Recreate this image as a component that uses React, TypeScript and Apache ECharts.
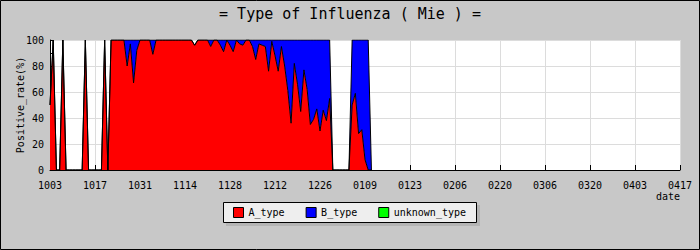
import React, { useEffect, useRef } from "react";
import * as echarts from "echarts";

// Daily dates from 2010-10-03 to 2011-04-17 (197 days), shown as MMDD
const START_DATE = Date.UTC(2010, 9, 3);
const DAY_COUNT = 197;
const categories: string[] = Array.from({ length: DAY_COUNT }, (_, i) => {
  const d = new Date(START_DATE + i * 86400000);
  const mm = String(d.getUTCMonth() + 1).padStart(2, "0");
  const dd = String(d.getUTCDate()).padStart(2, "0");
  return mm + dd;
});

const seriesNames = ["A_type", "B_type", "unknown_type"];

// Positive rate (%) per day, from 1003 onward
const aType: number[] = [
  50, 100, 0, 0, 100, 0, 0, 0, 0, 0, 0, 100, 0, 0, 0, 0, 0, 100, 0, 100,
  100, 100, 100, 100, 80, 97, 67, 92, 100, 100, 100, 100, 89, 100, 100, 100, 100, 100, 100, 100,
  100, 100, 100, 100, 100, 96, 100, 100, 100, 100, 95, 100, 100, 96, 91, 100, 96, 91, 100, 97,
  96, 100, 100, 95, 85, 97, 96, 95, 76, 99, 88, 76, 95, 80, 61, 36, 82, 66, 45, 77,
  62, 35, 39, 47, 30, 46, 38, 55, 0, 0, 0, 0, 0, 0, 50, 59, 28, 31, 8, 0,
  0,
];
const bType: number[] = [
  0, 0, 0, 0, 0, 0, 0, 0, 0, 0, 0, 0, 0, 0, 0, 0, 0, 0, 0, 0,
  0, 0, 0, 0, 20, 3, 33, 8, 0, 0, 0, 0, 11, 0, 0, 0, 0, 0, 0, 0,
  0, 0, 0, 0, 0, 0, 0, 0, 0, 0, 5, 0, 0, 4, 9, 0, 4, 9, 0, 3,
  4, 0, 0, 5, 15, 3, 4, 5, 24, 1, 12, 24, 5, 20, 39, 64, 18, 34, 55, 23,
  38, 65, 61, 53, 70, 54, 62, 45, 0, 0, 0, 0, 0, 0, 50, 41, 72, 69, 92, 100,
  0,
];
const unknownType: number[] = [];

const seriesColors = ["#ff0000", "#0000ff", "#00ff00"];
const FONT = "DejaVu Sans Mono";

export default function App() {
  const ref = useRef<HTMLDivElement>(null);
  useEffect(() => {
    if (!ref.current) return;
    const chart = echarts.init(ref.current, undefined, { renderer: "svg" });
    const data = [aType, bType, unknownType];
    chart.setOption({
      animation: false,
      backgroundColor: "#c8c8c8",
      legend: {
        data: seriesNames,
        left: 233,
        top: 207,
        padding: 0,
        itemGap: 21,
        itemWidth: 10,
        itemHeight: 10,
        icon: "rect",
        itemStyle: { borderColor: "#000", borderWidth: 1 },
        textStyle: { fontFamily: FONT, fontSize: 10, color: "#000" },
      },
      graphic: [
        { type: "rect", shape: { x: 0.5, y: 0.5, width: 699, height: 249 }, style: { fill: "none", stroke: "#000", lineWidth: 1 }, z: 100 },
        { type: "rect", shape: { x: 226, y: 205, width: 254, height: 21 }, style: { fill: "#b4b4b4" }, z: 0 },
        { type: "rect", shape: { x: 223.5, y: 202.5, width: 253, height: 20 }, style: { fill: "#eeeeee", stroke: "#000", lineWidth: 1 }, z: 1 },
        { type: "text", x: 350, y: 14, style: { text: "= Type of Influenza ( Mie ) =", fontFamily: FONT, fontSize: 15, fill: "#000", textAlign: "center", textVerticalAlign: "middle" } },
        { type: "text", x: 680, y: 196, style: { text: "date", fontFamily: FONT, fontSize: 10, fill: "#000", textAlign: "right", textVerticalAlign: "middle" } },
      ],
      grid: {
        left: 50, right: 20, top: 40, bottom: 80,
        containLabel: false,
        outerBoundsMode: "none",
        show: true, backgroundColor: "#ffffff", borderWidth: 0,
      },
      xAxis: {
        type: "category",
        data: categories,
        boundaryGap: false,
        axisLine: { lineStyle: { color: "#000", width: 1 } },
        axisTick: { show: true, inside: true, length: 5, interval: 13, lineStyle: { color: "#000" } },
        axisLabel: { interval: 13, fontFamily: FONT, fontSize: 10, color: "#000", margin: 10 },
        splitLine: { show: true, interval: 13, lineStyle: { color: "#dcdcdc", width: 1 } },
      },
      yAxis: {
        type: "value",
        min: 0,
        max: 100,
        interval: 20,
        name: "Positive_rate(%)",
        nameLocation: "middle",
        nameRotate: 90,
        nameGap: 25,
        nameMoveOverlap: false,
        nameTextStyle: { fontFamily: FONT, fontSize: 10, color: "#000" },
        axisLine: { show: true, lineStyle: { color: "#000", width: 1 } },
        axisTick: { show: true, inside: true, length: 3, lineStyle: { color: "#000" } },
        minorTick: { show: true, splitNumber: 2, length: 3, lineStyle: { color: "#000" } },
        axisLabel: { fontFamily: FONT, fontSize: 10, color: "#000", margin: 6 },
        splitLine: { show: true, lineStyle: { color: "#dcdcdc", width: 1 } },
      },
      series: seriesNames.map((name, i) => ({
        name,
        type: "line",
        stack: "total",
        data: data[i],
        showSymbol: false,
        symbol: "none",
        color: seriesColors[i],
        lineStyle: { color: "#000", width: 1 },
        areaStyle: { color: seriesColors[i], opacity: 1 },
        itemStyle: { color: seriesColors[i] },
      })),
    });
    return () => chart.dispose();
  }, []);
  return <div ref={ref} style={{ position: "fixed", left: 0, top: 0, width: 700, height: 250 }} />;
}
